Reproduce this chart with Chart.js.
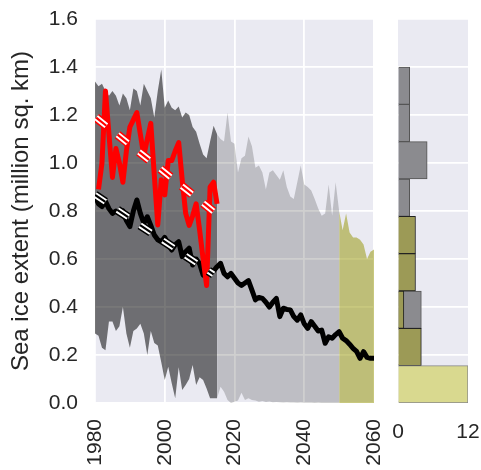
<!DOCTYPE html>
<html>
<head>
<meta charset="utf-8">
<script src="https://cdn.jsdelivr.net/npm/chart.js@4.4.1/dist/chart.umd.min.js"></script>
<style>
  body { margin:0; background:#fff; }
  #main { position:absolute; left:0; top:0; width:400px; height:470px; }
  #side { position:absolute; left:380px; top:0; width:101px; height:470px; }
</style>
</head>
<body>
<div id="main"><canvas id="mainChart"></canvas></div>
<div id="side"><canvas id="histChart"></canvas></div>
<script>
// model years 1980-2060
const years = Array.from({length: 81}, (_, i) => 1980 + i);

// model spread (max / min) and ensemble mean, one value per year
const envUpper = [
  1.34,1.32,1.33,1.30,1.28,1.30,1.28,1.24,1.29,1.27,
  1.22,1.31,1.30,1.24,1.33,1.30,1.27,1.19,1.30,1.39,
  1.23,1.26,1.23,1.22,1.235,1.19,1.21,1.20,1.15,1.13,
  1.08,1.035,1.02,1.09,1.155,1.12,1.10,1.09,1.21,1.09,
  1.08,0.96,1.02,1.03,1.11,1.07,0.98,0.99,0.96,0.89,
  0.96,0.97,0.95,0.93,0.97,0.90,0.86,0.85,0.92,0.99,
  0.91,0.90,0.885,0.85,0.81,0.78,0.79,0.91,0.78,0.92,
  0.80,0.72,0.79,0.71,0.69,0.69,0.68,0.66,0.60,0.63,0.64
];
const envLower = [
  0.29,0.28,0.23,0.22,0.34,0.34,0.30,0.32,0.40,0.29,
  0.23,0.30,0.31,0.33,0.29,0.20,0.30,0.25,0.24,0.17,
  0.096,0.151,0.082,0.02,0.149,0.054,0.075,0.10,0.158,0.075,
  0.107,0.096,0.06,0.02,0.02,0.02,0.068,0.047,0.012,0.0,
  0.005,0.01,0.043,0.012,0.02,0.012,0.01,0.005,0.008,0.004,
  0.006,0.003,0.004,0.003,0.002,0.003,0.002,0.002,0.001,0.002,
  0.001,0.001,0.001,0.0,0.001,0.0,0.0,0.0,0.0,0.0,
  0.0,0.0,0.0,0.0,0.0,0.0,0.0,0.0,0.0,0.0,0.0
];
const ensMean = [
  0.865,0.83,0.818,0.84,0.81,0.79,0.80,0.79,0.80,0.76,
  0.735,0.80,0.846,0.79,0.749,0.776,0.74,0.70,0.68,0.672,
  0.69,0.66,0.6375,0.66,0.672,0.61,0.63,0.645,0.575,0.60,
  0.58,0.533,0.56,0.545,0.55,0.568,0.582,0.54,0.526,0.54,
  0.52,0.50,0.49,0.50,0.51,0.47,0.43,0.44,0.436,0.42,
  0.40,0.42,0.436,0.36,0.395,0.39,0.388,0.36,0.345,0.367,
  0.33,0.311,0.339,0.32,0.30,0.304,0.249,0.276,0.27,0.285,
  0.297,0.27,0.26,0.245,0.228,0.215,0.186,0.214,0.19,0.186,0.186
];

// observations
const obsYears = Array.from({length: 35}, (_, i) => 1981 + i);
const obsExtent = [
  0.89,1.00,1.30,1.12,0.94,1.06,1.00,0.92,1.05,1.15,
  1.18,1.21,1.12,1.03,1.10,1.165,0.95,0.742,0.93,0.867,
  1.01,1.01,1.05,1.085,0.93,0.79,0.74,0.78,0.83,0.72,
  0.60,0.49,0.90,0.92,0.83
];

// linear trends
const trendYears = [1980, 2014];
const meanTrend = [0.867, 0.536];
const obsTrend = [1.193, 0.798];

// shading periods
const periods = [[1980, 2015], [2015, 2050], [2050, 2060]];

// histogram (right panel)
const binEdges = [0, 0.156, 0.311, 0.467, 0.622, 0.778, 0.933, 1.089, 1.244, 1.4];
const grayCounts  = [0, 0, 4, 0, 0, 2, 5, 2, 2];
const oliveCounts = [0, 4, 1, 3, 3, 0, 0, 0, 0];
const paleCounts  = [12, 0, 0, 0, 0, 0, 0, 0, 0];

const xTicks = [1980, 2000, 2020, 2040, 2060];
const yTicks = [0, 0.2, 0.4, 0.6, 0.8, 1.0, 1.2, 1.4, 1.6];
const histTicks = [0, 12];

Chart.defaults.font.family = '"Liberation Sans", Arial, sans-serif';
Chart.defaults.color = '#262626';
Chart.defaults.animation = false;

const bgPlugin = {
  id: 'bg',
  beforeDraw(chart) {
    const {ctx, chartArea: a} = chart;
    ctx.save();
    ctx.fillStyle = '#EAEAF2';
    ctx.fillRect(a.left, a.top, a.right - a.left, a.bottom - a.top);
    ctx.restore();
  }
};

function pts(xs, ys) { return xs.map((x, i) => ({x: x, y: ys[i]})); }
function slice(arr, p) { return arr.slice(years.indexOf(p[0]), years.indexOf(p[1]) + 1); }

const bandColors = ['rgba(0,0,0,0.53)', 'rgba(0,0,0,0.19)', 'rgba(150,150,7,0.52)'];
const ds = [];
periods.forEach((p, k) => {
  const yrs = slice(years, p);
  ds.push({ data: pts(yrs, slice(envLower, p)), borderWidth: 0, pointRadius: 0, fill: false, order: 50 + k*2 });
  ds.push({ data: pts(yrs, slice(envUpper, p)), borderWidth: 0, pointRadius: 0,
            fill: { target: ds.length - 1 }, backgroundColor: bandColors[k], order: 50 + k*2 + 1 });
});
ds.push({ data: pts(years, ensMean), borderColor: '#000', borderWidth: 5, pointRadius: 0, fill: false, order: 20, borderJoinStyle: 'round' });
ds.push({ data: pts(obsYears, obsExtent), borderColor: '#ff0000', borderWidth: 5, pointRadius: 0, fill: false, order: 10, borderJoinStyle: 'round' });

function trendLayers(vals, col, off) {
  const dash = [13, 14.4];
  [[col, 9], ['#fff', 6], [col, 2.2]].forEach((l, j) => {
    ds.push({ data: pts(trendYears, vals), borderColor: l[0], borderWidth: l[1], borderDash: dash,
              borderDashOffset: off, pointRadius: 0, fill: false, order: 5 - j, borderCapStyle: 'butt' });
  });
}
trendLayers(meanTrend, '#000', 0.5);
trendLayers(obsTrend, '#ff0000', -1.5);

const tickFont = { size: 21 };

new Chart(document.getElementById('mainChart'), {
  type: 'line',
  data: { datasets: ds },
  plugins: [bgPlugin],
  options: {
    responsive: true, maintainAspectRatio: false,
    layout: { padding: { top: 19, right: 26, left: 0, bottom: 0 } },
    plugins: { legend: { display: false }, tooltip: { enabled: false } },
    scales: {
      x: {
        type: 'linear', min: 1980, max: 2060,
        afterBuildTicks: s => { s.ticks = xTicks.map(v => ({value: v})); },
        afterFit: s => { s.height = 67; s.paddingLeft = 0; s.paddingRight = 0; },
        ticks: { font: tickFont, minRotation: 90, maxRotation: 90, padding: 16, callback: v => String(v) },
        grid: { color: '#fff', lineWidth: 1.8, drawTicks: false },
        border: { display: false }
      },
      y: {
        type: 'linear', min: 0, max: 1.6,
        afterBuildTicks: s => { s.ticks = yTicks.map(v => ({value: v})); },
        afterFit: s => { s.width = 95; s.paddingTop = 0; s.paddingBottom = 0; },
        ticks: { font: tickFont, padding: 17, callback: v => v.toFixed(1) },
        grid: { color: '#fff', lineWidth: 1.8, drawTicks: false },
        border: { display: false },
        title: { display: true, text: 'Sea ice extent (million sq. km)', font: { size: 24 }, padding: { top: 7, bottom: 0 } }
      }
    }
  }
});

function histPts(counts) {
  const out = [];
  counts.forEach((c, i) => { if (c) out.push({ x: c, y: (binEdges[i] + binEdges[i+1]) / 2 }); });
  return out;
}

new Chart(document.getElementById('histChart'), {
  type: 'bar',
  data: { datasets: [
    { data: histPts(grayCounts), backgroundColor: '#8b8b8f', borderColor: '#555', borderWidth: 1, order: 3 },
    { data: histPts(oliveCounts), backgroundColor: '#9c9a56', borderColor: '#222', borderWidth: 1, order: 2 },
    { data: histPts(paleCounts), backgroundColor: '#d9d98f', borderColor: '#888', borderWidth: 1, order: 1 }
  ]},
  plugins: [bgPlugin],
  options: {
    indexAxis: 'y',
    responsive: true, maintainAspectRatio: false,
    grouped: false,
    categoryPercentage: 1, barPercentage: 1,
    layout: { padding: { top: 19, right: 13, left: 0, bottom: 0 } },
    plugins: { legend: { display: false }, tooltip: { enabled: false } },
    scales: {
      x: {
        type: 'linear', min: 0, max: 12,
        afterBuildTicks: s => { s.ticks = histTicks.map(v => ({value: v})); },
        afterFit: s => { s.height = 67; s.paddingLeft = 0; s.paddingRight = 0; },
        ticks: { font: tickFont, maxRotation: 0, padding: 17 },
        grid: { drawOnChartArea: false, drawTicks: false },
        border: { display: false }
      },
      y: {
        type: 'linear', min: 0, max: 1.6, offset: false,
        afterBuildTicks: s => { s.ticks = yTicks.map(v => ({value: v})); },
        afterFit: s => { s.width = 18; s.paddingTop = 0; s.paddingBottom = 0; },
        ticks: { display: false },
        grid: { color: '#fff', lineWidth: 1.8, drawTicks: false, offset: false },
        border: { display: false }
      }
    }
  }
});
</script>
</body>
</html>
